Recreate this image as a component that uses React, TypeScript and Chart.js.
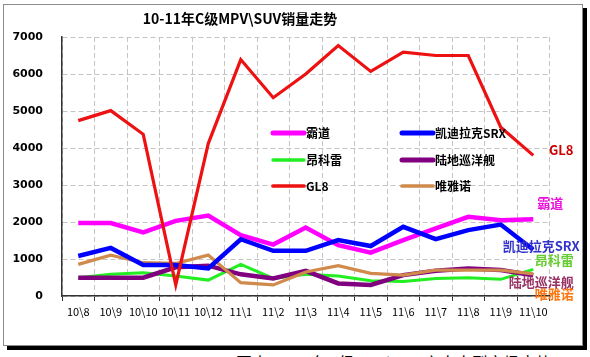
import React, { useEffect, useRef } from "react";
import { Chart, registerables } from "chart.js";

Chart.register(...registerables);

const categories = ["10\\8", "10\\9", "10\\10", "10\\11", "10\\12", "11\\1", "11\\2", "11\\3", "11\\4", "11\\5", "11\\6", "11\\7", "11\\8", "11\\9", "11\\10"];

const badao = [1975, 1970, 1720, 2030, 2175, 1645, 1390, 1850, 1375, 1170, 1510, 1825, 2140, 2050, 2075];
const srx = [1080, 1300, 835, 835, 745, 1535, 1220, 1220, 1510, 1350, 1870, 1535, 1780, 1930, 1250];
const ankelei = [495, 585, 630, 540, 430, 855, 475, 590, 540, 415, 390, 475, 495, 450, 720];
const ludi = [495, 495, 495, 775, 820, 585, 475, 680, 340, 300, 565, 680, 745, 700, 560];
const gl8 = [4740, 5010, 4370, 300, 4120, 6390, 5360, 6000, 6770, 6070, 6590, 6500, 6500, 4560, 3800];
const weiyanuo = [855, 1105, 900, 880, 1105, 360, 300, 650, 820, 610, 565, 700, 700, 700, 600];

const seriesNames = ["霸道", "凯迪拉克SRX", "昂科雷", "陆地巡洋舰", "GL8", "唯雅诺"];
const seriesData = [badao, srx, ankelei, ludi, gl8, weiyanuo];

const yTicks = [0, 1000, 2000, 3000, 4000, 5000, 6000, 7000];
const titleText = "10-11年C级MPV\\SUV销量走势";

// styles
const lineColors = ["#FF00FF", "#0000FF", "#22EE22", "#800080", "#EE1111", "#D08A4C"];
const lineWidths = [4.5, 4.5, 3, 4.5, 3.2, 3.2];
const drawOrder = [2, 1, 5, 4, 0, 3];
const labelColors = ["#EE11DD", "#3333CC", "#66CC33", "#993366", "#CC0000", "#FF7711"];
const labelOffsets = [
  [17, -16],
  [8, -4],
  [21, -9],
  [8, 7],
  [28, -5],
  [21, 20],
];
const CJK = "'Noto Sans CJK SC', 'DejaVu Sans', sans-serif";

const overlayPlugin = {
  id: "overlay",
  afterDraw(chart: any) {
    const ctx = chart.ctx;
    ctx.save();
    // title
    ctx.fillStyle = "#000";
    ctx.font = `bold 14px ${CJK}`;
    ctx.textAlign = "center";
    ctx.textBaseline = "middle";
    ctx.fillText(titleText, 240, 19);

    // legend
    const cols = [273, 402];
    const rows = [133, 160, 186];
    ctx.font = `bold 12px ${CJK}`;
    ctx.textAlign = "left";
    for (let i = 0; i < seriesNames.length; i++) {
      const cx = cols[i % 2];
      const cy = rows[Math.floor(i / 2)];
      ctx.strokeStyle = lineColors[i];
      ctx.lineWidth = lineWidths[i] + 0.5;
      ctx.lineCap = "round";
      ctx.beginPath();
      ctx.moveTo(cx, cy);
      ctx.lineTo(cx + 31, cy);
      ctx.stroke();
      ctx.fillStyle = "#000";
      ctx.fillText(seriesNames[i], cx + 33, cy + 0.5);
    }

    // end labels
    ctx.font = `bold 13px ${CJK}`;
    ctx.textAlign = "center";
    chart.data.datasets.forEach((ds: any, i: number) => {
      const meta = chart.getDatasetMeta(i);
      const pts = meta.data;
      const last = pts[pts.length - 1];
      if (!last) return;
      ctx.fillStyle = labelColors[i];
      ctx.fillText(seriesNames[i], last.x + labelOffsets[i][0], last.y + labelOffsets[i][1]);
    });
    ctx.restore();
  },
};

export default function App() {
  const canvasRef = useRef<HTMLCanvasElement | null>(null);

  useEffect(() => {
    const canvas = canvasRef.current;
    if (!canvas) return;
    const chart = new Chart(canvas, {
      type: "line",
      data: {
        labels: categories,
        datasets: seriesData.map((d, i) => ({
          label: seriesNames[i],
          data: d,
          borderColor: lineColors[i],
          backgroundColor: lineColors[i],
          borderWidth: lineWidths[i],
          pointRadius: 0,
          pointHoverRadius: 0,
          tension: 0,
          fill: false,
          order: drawOrder[i],
          borderJoinStyle: "miter",
        })),
      },
      options: {
        responsive: false,
        animation: false,
        devicePixelRatio: 1,
        layout: { padding: { top: 37, left: 0, right: 40.5, bottom: 0 } },
        plugins: {
          legend: { display: false },
          title: { display: false },
          tooltip: { enabled: false },
        },
        scales: {
          x: {
            type: "category",
            offset: true,
            grid: {
              offset: true,
              color: "#C4C4C4",
              lineWidth: 1,
              tickColor: "#333",
              tickLength: 5,
              tickBorderDash: [],
              drawTicks: true,
            },
            border: { color: "#333", width: 1.5, dash: [5, 3] },
            ticks: {
              color: "#000",
              font: { family: CJK, size: 11 },
              padding: 4,
              maxRotation: 0,
              minRotation: 0,
              autoSkip: false,
            },
            afterFit: (s: any) => {
              s.height = 49;
            },
          },
          y: {
            min: 0,
            max: 7000,
            afterBuildTicks: (s: any) => {
              s.ticks = yTicks.map((v) => ({ value: v }));
            },
            grid: {
              color: "#C4C4C4",
              lineWidth: 1,
              drawTicks: false,
            },
            border: { color: "#333", width: 1.5, dash: [5, 3] },
            ticks: {
              color: "#000",
              font: { family: "'DejaVu Sans', sans-serif", size: 11, weight: "bold" },
              padding: 19,
              callback: (v: any) => String(v),
            },
            afterFit: (s: any) => {
              s.width = 62;
            },
          },
        },
      },
      plugins: [overlayPlugin],
    } as any);
    return () => chart.destroy();
  }, []);

  return (
    <div
      style={{
        position: "absolute",
        left: 0,
        top: 0,
        width: 590,
        height: 357,
        overflow: "hidden",
        background: "#fff",
      }}
    >
      <div style={{ position: "absolute", left: 7, top: 8, width: 580, height: 342, background: "#000" }} />
      <div
        style={{
          position: "absolute",
          left: 3,
          top: 4,
          width: 578,
          height: 340,
          background: "#fff",
          border: "1px solid #8C8C8C",
        }}
      />
      <div
        style={{
          position: "absolute",
          left: 236,
          top: 354,
          fontFamily: CJK,
          fontSize: 16,
          lineHeight: "16px",
          whiteSpace: "nowrap",
          color: "#000",
        }}
      >
        图表 10-11年C级MPV\SUV之大中型市场走势
      </div>
      <canvas
        ref={canvasRef}
        width={590}
        height={345}
        style={{ position: "absolute", left: 0, top: 0, width: 590, height: 345 }}
      />
    </div>
  );
}
